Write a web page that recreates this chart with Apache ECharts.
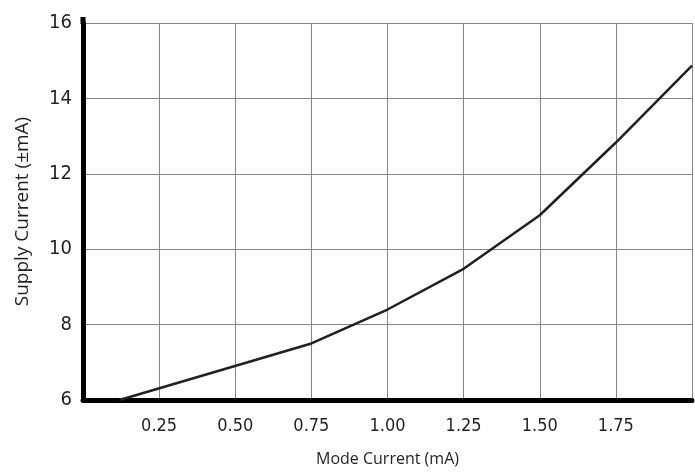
<!DOCTYPE html>
<html>
<head>
<meta charset="utf-8">
<script src="https://cdn.jsdelivr.net/npm/echarts@6/dist/echarts.min.js"></script>
<style>html,body{margin:0;padding:0;background:#fff}#c{width:695px;height:472px}</style>
</head>
<body>
<div id="c"></div>
<script>
const modeCurrent = [0.12, 0.75, 1.00, 1.25, 1.50, 1.75, 2.00];
const supplyCurrent = [6.0, 7.5, 8.4, 9.48, 10.9, 12.83, 14.87];
const xTicks = ['0.25', '0.50', '0.75', '1.00', '1.25', '1.50', '1.75'];
const yTicks = ['6', '8', '10', '12', '14', '16'];

const chart = echarts.init(document.getElementById('c'), null, {renderer: 'canvas'});
const labelFont = '"DejaVu Sans Condensed", sans-serif';
chart.setOption({
  animation: false,
  grid: {left: 83, right: 2, top: 23, bottom: 68, containLabel: false},
  xAxis: {
    type: 'value', min: 0, max: 2, interval: 0.25,
    name: 'Mode Current (mA)', nameLocation: 'middle', nameGap: 51,
    nameTextStyle: {fontFamily: '"Open Sans", sans-serif', fontSize: 16, color: '#231f20'},
    axisLine: {show: true, onZero: false, lineStyle: {color: '#000', width: 5}},
    axisTick: {show: false},
    splitLine: {show: true, lineStyle: {color: '#858585', width: 1}},
    axisLabel: {
      margin: 17, fontFamily: labelFont, fontSize: 18, color: '#231f20',
      formatter: v => { const s = v.toFixed(2); return xTicks.includes(s) ? s : ''; }
    }
  },
  yAxis: {
    type: 'value', min: 6, max: 16, interval: 2,
    name: 'Supply Current (\u00b1mA)', nameLocation: 'middle', nameGap: 51,
    nameTextStyle: {fontFamily: '"Open Sans", sans-serif', fontSize: 19, color: '#231f20'},
    axisLine: {show: true, onZero: false, lineStyle: {color: '#000', width: 5}},
    axisTick: {show: false},
    splitLine: {show: true, lineStyle: {color: '#858585', width: 1}},
    axisLabel: {
      margin: 11, fontFamily: labelFont, fontSize: 20, color: '#231f20',
      formatter: v => { const s = String(v); return yTicks.includes(s) ? s : ''; }
    }
  },
  series: [{
    type: 'line',
    data: modeCurrent.map((x, i) => [x, supplyCurrent[i]]),
    showSymbol: false,
    lineStyle: {color: '#231f20', width: 2.5},
    z: 1
  }]
});
// extend the left axis bar slightly above the plot top, as in the original
const axisTopPx = chart.convertToPixel({gridIndex: 0}, [0, 16]);
chart.setOption({
  graphic: [{
    type: 'line', silent: true, z: 100,
    shape: {x1: axisTopPx[0], y1: axisTopPx[1] - 6, x2: axisTopPx[0], y2: axisTopPx[1] + 1},
    style: {stroke: '#000', lineWidth: 5}
  }]
});
</script>
</body>
</html>
